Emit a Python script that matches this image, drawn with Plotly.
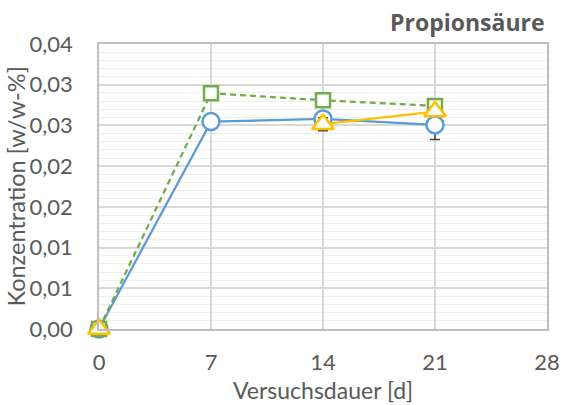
import plotly.graph_objects as go

days = [0, 7, 14, 21]
blue_vals = [0.0, 0.02547, 0.0258, 0.02506]
blue_err = [0.0, 0.0002, 0.0003, 0.0018]
green_vals = [0.0, 0.02895, 0.0281, 0.0274]
yellow_vals = [0.0, None, 0.02515, 0.0267]
yellow_err = [0.0, 0.0, 0.0008, 0.0003]

y_tickvals = [0, 0.005, 0.01, 0.015, 0.02, 0.025, 0.03, 0.035]
y_ticktext = ["0,00", "0,01", "0,01", "0,02", "0,02", "0,03", "0,03", "0,04"]
x_tickvals = [0, 7, 14, 21, 28]

title_text = "Propionsäure"
x_title = "Versuchsdauer [d]"
y_title = "Konzentration [w/w-%]"

FONT = "Lato"
TXT = "#595959"

fig = go.Figure()
fig.add_trace(go.Scatter(
    x=days, y=blue_vals, mode="lines+markers", cliponaxis=False,
    line=dict(color="#5B9BD5", width=2.25),
    marker=dict(symbol="circle", size=17, color="white", line=dict(color="#5B9BD5", width=2.5)),
    error_y=dict(type="data", array=blue_err, color="#404040", thickness=1.5, width=5),
))
fig.add_trace(go.Scatter(
    x=days, y=green_vals, mode="lines+markers", cliponaxis=False,
    line=dict(color="#70AD47", width=2.25, dash="6px,4px"),
    marker=dict(symbol="square", size=14, color="white", line=dict(color="#70AD47", width=2.5)),
))
fig.add_trace(go.Scatter(
    x=days, y=yellow_vals, mode="lines+markers", cliponaxis=False, connectgaps=False,
    line=dict(color="#FFC000", width=2.25),
    marker=dict(symbol="triangle-up", size=19, color="white", line=dict(color="#FFC000", width=2.5)),
    error_y=dict(type="data", array=yellow_err, color="#404040", thickness=1.5, width=5),
))

fig.update_layout(
    width=564, height=405,
    margin=dict(l=99, r=17, t=44, b=76),
    paper_bgcolor="white", plot_bgcolor="white",
    showlegend=False,
    font=dict(family=FONT, color=TXT, size=22),
)
fig.add_annotation(text="<b>" + title_text + "</b>", xref="paper", yref="paper",
                   x=1.0, y=1.0, xanchor="right", yanchor="middle", yshift=22, showarrow=False,
                   font=dict(family="Open Sans", size=23, color=TXT))
fig.add_annotation(text=x_title, xref="paper", yref="paper", x=0.5, y=0, yanchor="middle",
                   yshift=-61, showarrow=False, font=dict(family=FONT, size=23, color=TXT))
fig.add_annotation(text=y_title, xref="paper", yref="paper", x=0, y=0.5, xanchor="center",
                   xshift=-84, textangle=-90, showarrow=False, font=dict(family=FONT, size=23.5, color=TXT))

fig.update_xaxes(
    range=[0, 28], tickvals=x_tickvals, ticks="", automargin=False,
    showgrid=True, gridcolor="#d9d9d9", gridwidth=1.5,
    showline=True, linecolor="#bfbfbf", linewidth=1.5, mirror=True,
    zeroline=False, ticklabelstandoff=13,
    tickfont=dict(size=22),
)
fig.update_yaxes(
    range=[0, 0.035], tickvals=y_tickvals, ticktext=y_ticktext, ticks="", automargin=False,
    showgrid=True, gridcolor="#d9d9d9", gridwidth=1.5,
    minor=dict(dtick=0.001, showgrid=True, gridcolor="#efefef", gridwidth=1, ticks=""),
    showline=True, linecolor="#bfbfbf", linewidth=1.5, mirror=True,
    zeroline=False, ticklabelstandoff=20,
    tickfont=dict(size=22),
)

fig.write_html("out.html", config={"displayModeBar": False},
               post_script="document.body.style.margin='0px';")
